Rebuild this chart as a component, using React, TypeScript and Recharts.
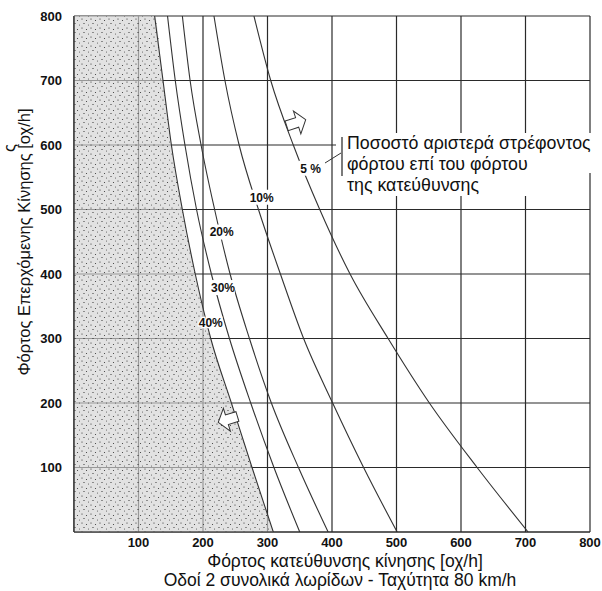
import React from 'react';
import { ComposedChart, Line, Area, XAxis, YAxis, CartesianGrid, ReferenceDot } from 'recharts';

const FONT = "Arial, 'Liberation Sans', sans-serif";

const xTicks = [100, 200, 300, 400, 500, 600, 700, 800];
const yTicks = [100, 200, 300, 400, 500, 600, 700, 800];

// oncoming flow levels (y) at which the curves were read
const flowLevels = [800, 700, 600, 500, 400, 300, 200, 100, 0];
// directional flow (x) of each curve at those levels
const curve40 = [125, 138, 151, 168, 188, 212, 244, 276, 309];
const curve30 = [145, 157, 172, 190, 213, 241, 274, 310, 350];
const curve20 = [168, 180, 197, 218, 242, 272, 306, 348, 394];
const curve10 = [217, 234, 256, 286, 320, 356, 401, 449, 501];
const curve5 = [279, 305, 340, 381, 428, 487, 551, 625, 704];

const pctTexts = ['40%', '30%', '20%', '10%', '5 %'];
const pctX = [212, 231, 229, 291, 367];
const pctY = [324, 379, 465, 519, 564];

const arrowX = [343, 240];
const arrowY = [634, 175];
const arrowAngle = [-18, 163];

const toPoints = (xs: number[]) =>
  xs.map((x, i) => ({ x, y: flowLevels[i] })).sort((a, b) => a.x - b.x);

const shadedData = [{ x: 0, y: 800 }, ...toPoints(curve40)];
const curves = [curve40, curve30, curve20, curve10, curve5].map(toPoints);

const pctShape = (text: string, outline: boolean) => (props: any) => {
  const { cx, cy } = props;
  const w = text.length * 7.2 + 2;
  return (
    <g>
      {!outline && <rect x={cx - w / 2} y={cy - 7.5} width={w} height={15} fill="#fff" />}
      <text
        x={cx}
        y={cy}
        dy="0.36em"
        textAnchor="middle"
        fontSize={12}
        fontWeight="bold"
        fontFamily={FONT}
        fill="#111"
        stroke={outline ? '#fff' : 'none'}
        strokeWidth={outline ? 2.5 : 0}
        paintOrder="stroke"
      >
        {text}
      </text>
    </g>
  );
};

const arrowShape = (angle: number) => (props: any) => {
  const { cx, cy } = props;
  return (
    <polygon
      points="-9,-5 2,-5 2,-12 11,0 2,12 2,5 -9,5"
      transform={`translate(${cx},${cy}) rotate(${angle})`}
      fill="#fff"
      stroke="#333"
      strokeWidth={1}
    />
  );
};

export default function App() {
  return (
    <div style={{ position: 'absolute', left: 0, top: 0, width: 602, height: 591, background: '#fff' }}>
      <svg width={0} height={0} style={{ position: 'absolute' }}>
        <defs>
          <pattern id="stipple" width="9" height="9" patternUnits="userSpaceOnUse">
            <rect width="9" height="9" fill="#d2d2d2" fillOpacity="0.65" />
            <circle cx="1" cy="1" r="0.6" fill="#222" />
            <circle cx="5.5" cy="2.5" r="0.55" fill="#333" />
            <circle cx="3" cy="5.5" r="0.6" fill="#222" />
            <circle cx="7.5" cy="7" r="0.5" fill="#444" />
          </pattern>
        </defs>
      </svg>
      <ComposedChart width={602} height={591} margin={{ top: 16, right: 12, bottom: 0, left: 0 }}>
        <CartesianGrid stroke="#2a2a2a" strokeWidth={1.2} />
        <XAxis
          type="number"
          dataKey="x"
          domain={[0, 800]}
          ticks={xTicks}
          height={59}
          tickLine={false}
          tickSize={5}
          tickMargin={1}
          axisLine={{ stroke: '#2a2a2a', strokeWidth: 1.2 }}
          tick={{ fontSize: 13, fontWeight: 'bold', fill: '#111', fontFamily: FONT }}
          allowDataOverflow
        />
        <YAxis
          type="number"
          dataKey="y"
          domain={[0, 800]}
          ticks={yTicks}
          width={74}
          tickLine={false}
          tickSize={10}
          tickMargin={2}
          axisLine={{ stroke: '#2a2a2a', strokeWidth: 1.2 }}
          tick={{ fontSize: 13, fontWeight: 'bold', fill: '#111', fontFamily: FONT }}
          allowDataOverflow
        />
        <Area
          data={shadedData}
          dataKey="y"
          type="monotone"
          fill="url(#stipple)"
          fillOpacity={1}
          stroke="none"
          isAnimationActive={false}
          dot={false}
          activeDot={false}
        />
        {curves.map((pts, i) => (
          <Line
            key={i}
            data={pts}
            dataKey="y"
            type="monotone"
            stroke="#333"
            strokeWidth={1.1}
            dot={false}
            activeDot={false}
            isAnimationActive={false}
          />
        ))}
        {pctTexts.map((t, i) => (
          <ReferenceDot key={'p' + i} x={pctX[i]} y={pctY[i]} r={0} shape={pctShape(t, i === 0)} />
        ))}
        {arrowX.map((ax, i) => (
          <ReferenceDot key={'a' + i} x={ax} y={arrowY[i]} r={0} shape={arrowShape(arrowAngle[i])} />
        ))}
      </ComposedChart>
      <svg
        width={602}
        height={591}
        style={{ position: 'absolute', left: 0, top: 0, pointerEvents: 'none' }}
        fontFamily={FONT}
      >
        <rect x={336} y={133} width={262} height={40} fill="#fff" />
        <rect x={336} y={172} width={200} height={24} fill="#fff" />
        <line x1={342} y1={137} x2={342} y2={176} stroke="#333" strokeWidth={1.3} />
        <line x1={325} y1={163} x2={341} y2={153} stroke="#333" strokeWidth={1} />
        <text x={347} y={149} fontSize={17.8} fill="#111">Ποσοστό αριστερά στρέφοντος</text>
        <text x={347} y={170} fontSize={17.8} fill="#111">φόρτου επί του φόρτου</text>
        <text x={347} y={191} fontSize={17.8} fill="#111">της κατεύθυνσης</text>
        <text x={345} y={567} fontSize={17.5} textAnchor="middle" fill="#111">Φόρτος κατεύθυνσης κίνησης [οχ/h]</text>
        <text x={340} y={586} fontSize={17.5} textAnchor="middle" fill="#111">Οδοί 2 συνολικά λωρίδων - Ταχύτητα  80 km/h</text>
        <text x={24} y={242} fontSize={16.5} textAnchor="middle" dy="0.35em" transform="rotate(-90 24 242)" fill="#111">
          Φόρτος Επερχόμενης Κίνησης [οχ/h]
        </text>
        <text x={9} y={148} fontSize={16.5} textAnchor="middle" dy="0.35em" transform="rotate(-90 9 148)" fill="#111">
          ς
        </text>
      </svg>
    </div>
  );
}
